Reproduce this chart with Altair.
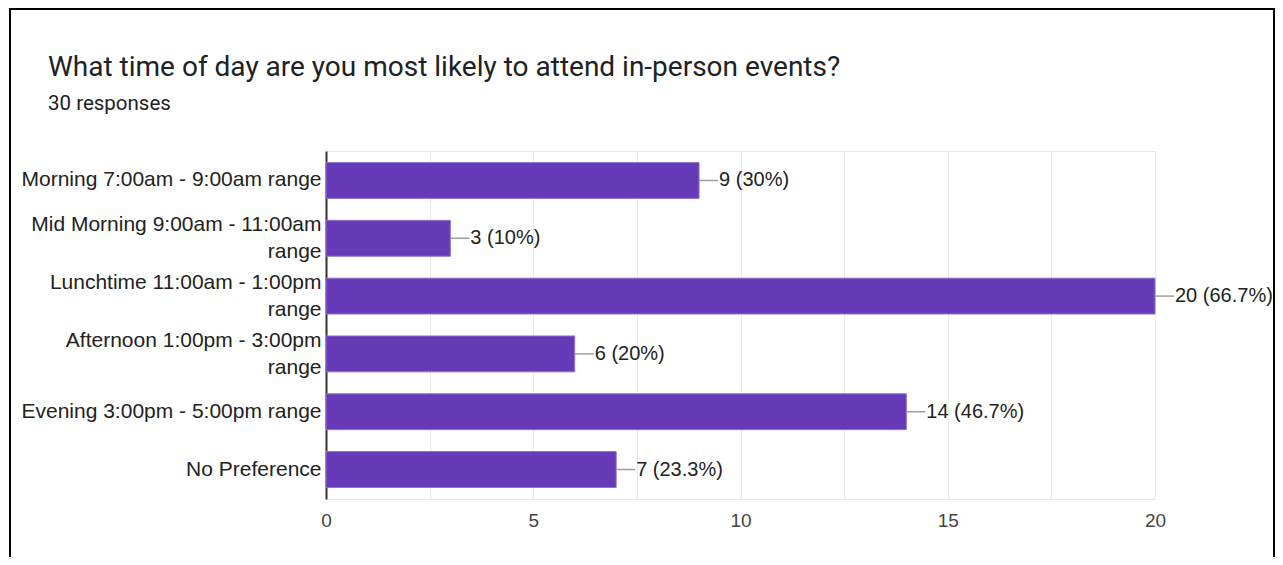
import altair as alt
import pandas as pd

categories = [
    "Morning 7:00am - 9:00am range",
    "Mid Morning 9:00am - 11:00am\nrange",
    "Lunchtime 11:00am - 1:00pm\nrange",
    "Afternoon 1:00pm - 3:00pm\nrange",
    "Evening 3:00pm - 5:00pm range",
    "No Preference",
]
counts = [9, 3, 20, 6, 14, 7]
total_responses = 30
x_ticks = [0, 2.5, 5, 7.5, 10, 12.5, 15, 17.5, 20]
title_text = "What time of day are you most likely to attend in-person events?"
subtitle_text = f"{total_responses} responses"

labels = [f"{c} ({round(c / total_responses * 100, 1):g}%)" for c in counts]
df = pd.DataFrame({"category": categories, "count": counts, "label": labels})

FONT = "Liberation Sans"
PURPLE = "#673ab7"

y_enc = alt.Y(
    "category:N",
    sort=categories,
    scale=alt.Scale(paddingInner=0.38, paddingOuter=0.2),
    axis=alt.Axis(
        title=None,
        labelFontSize=21,
        labelFont=FONT,
        labelColor="#222222",
        labelPadding=5,
        labelLimit=400,
        labelLineHeight=27,
        labelExpr="split(datum.label, '\\n')",
        labelOffset={
            "condition": {"test": "indexof(datum.value, '\\n') >= 0", "value": -13},
            "value": 0,
        },
        domainColor="#333333",
        domainWidth=2,
        ticks=False,
    ),
)
x_enc = alt.X(
    "count:Q",
    scale=alt.Scale(domain=[0, 20], nice=False),
    axis=alt.Axis(
        title=None,
        values=x_ticks,
        labelExpr="datum.value % 5 == 0 ? datum.label : ''",
        labelFontSize=19,
        labelFont=FONT,
        labelColor="#444444",
        labelPadding=12,
        labelFlush=False,
        labelOverlap=False,
        grid=True,
        gridColor="#ebebeb",
        gridWidth=1,
        domain=False,
        ticks=False,
    ),
)

base = alt.Chart(df)
bars = base.mark_bar(color=PURPLE, stroke="#8f70cc", strokeWidth=1).encode(x=x_enc, y=y_enc)
leaders = base.mark_rule(color="#9e9e9e", strokeWidth=1.5, x2Offset=19).encode(
    x="count:Q", x2="count:Q", y=alt.Y("category:N", sort=categories)
)
texts = base.mark_text(
    align="left", baseline="middle", dx=20, fontSize=20, font=FONT, color="#222222"
).encode(x="count:Q", y=alt.Y("category:N", sort=categories), text="label:N")

frame_df = pd.DataFrame({"title": [title_text], "subtitle": [subtitle_text]})
frame = alt.Chart(frame_df)
title_mark = frame.mark_text(
    align="left", baseline="alphabetic", font="Roboto", fontSize=28, color="#202124"
).encode(x=alt.value(-278), y=alt.value(-75), text="title:N")
subtitle_mark = frame.mark_text(
    align="left", baseline="alphabetic", font="Roboto", fontSize=20.5, color="#202124"
).encode(x=alt.value(-278), y=alt.value(-41), text="subtitle:N")
f_left = frame.mark_rule(color="black", strokeWidth=2).encode(
    x=alt.value(-316), y=alt.value(-142), y2=alt.value(430)
)
f_top = frame.mark_rule(color="black", strokeWidth=2).encode(
    x=alt.value(-317), x2=alt.value(949), y=alt.value(-142)
)
f_right = frame.mark_rule(color="black", strokeWidth=2).encode(
    x=alt.value(948), y=alt.value(-142), y2=alt.value(430)
)

chart = (
    alt.layer(bars, leaders, texts, title_mark, subtitle_mark, f_left, f_top, f_right)
    .properties(
        width=829,
        height=348,
        padding={"left": 318, "top": 143, "right": 120, "bottom": 58},
        autosize=alt.AutoSizeParams(type="none"),
    )
    .configure_view(stroke="#e6e6e6", strokeWidth=1)
)

chart.save("out.html", embed_options={"renderer": "svg", "actions": False})
